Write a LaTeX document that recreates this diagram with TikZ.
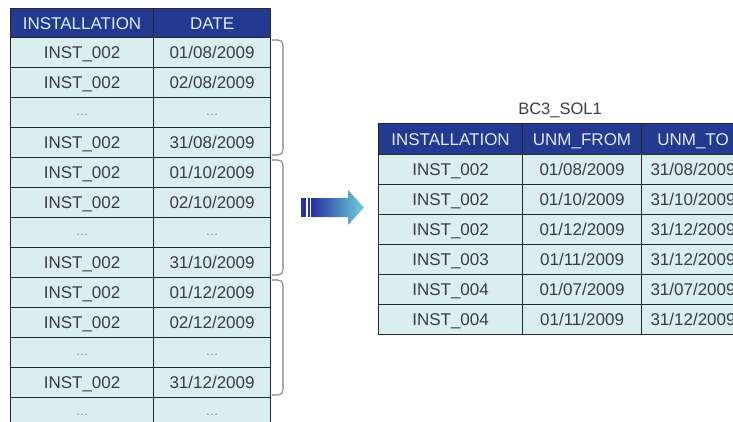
\documentclass[tikz,border=0pt]{standalone}
\usepackage{fontspec}
\setmainfont{Liberation Sans}
\definecolor{hdr}{RGB}{36,58,145}
\definecolor{cellbg}{RGB}{218,238,240}
\definecolor{bord}{RGB}{40,40,40}
\definecolor{txt}{RGB}{60,60,60}
\definecolor{hdrtxt}{RGB}{225,232,245}
\definecolor{brc}{RGB}{130,130,130}
\definecolor{arrA}{RGB}{38,48,160}
\definecolor{arrB}{RGB}{112,208,216}
\begin{document}
\begin{tikzpicture}[x=1pt,y=-1pt,
  cellbox/.style={draw=bord,line width=1.1pt,fill=cellbg,inner sep=0pt,anchor=north west,
     minimum height=30pt,text=txt,font=\fontsize{17}{18}\selectfont,text height=12pt,text depth=0pt},
  hdrbox/.style={cellbox,fill=hdr,text=hdrtxt,minimum height=29pt},
  dotsbox/.style={cellbox,font=\fontsize{13}{14}\selectfont,text=black!45,text height=6pt},
  bracket/.style={draw=brc,line width=1.1pt,rounded corners=5pt}]
\useasboundingbox (0,0) rectangle (733,421);
\clip (0,0) rectangle (733,421);
% ---------- left table ----------
\node[hdrbox,minimum width=143pt] (lh1) at (10,8) {INSTALLATION};
\node[hdrbox,minimum width=117pt] (lh2) at (153,8) {DATE};
\foreach \i/\a/\b/\s in {0/INST\_002/{01/08/2009}/cellbox,1/INST\_002/{02/08/2009}/cellbox,2/\dots/\dots/dotsbox,
  3/INST\_002/{31/08/2009}/cellbox,4/INST\_002/{01/10/2009}/cellbox,5/INST\_002/{02/10/2009}/cellbox,
  6/\dots/\dots/dotsbox,7/INST\_002/{31/10/2009}/cellbox,8/INST\_002/{01/12/2009}/cellbox,
  9/INST\_002/{02/12/2009}/cellbox,10/\dots/\dots/dotsbox,11/INST\_002/{31/12/2009}/cellbox,12/\dots/\dots/dotsbox}{
  \node[\s,minimum width=143pt] (l\i a) at (10,37+30*\i) {\a};
  \node[\s,minimum width=117pt] (l\i b) at (153,37+30*\i) {\b};
}
% brackets
\coordinate (b1t) at (272,40); \coordinate (b1b) at (272,155);
\coordinate (b2t) at (272,160); \coordinate (b2b) at (272,275);
\coordinate (b3t) at (272,280); \coordinate (b3b) at (272,395);
\foreach \k in {1,2,3}{
  \draw[bracket] (b\k t) -- ++(11,0) |- (b\k b);
}
% ---------- arrow ----------
\fill[arrA] (301,198) rectangle (306,217);
\fill[arrA] (307.5,198) rectangle (309.5,217);
\shade[left color=arrA,right color=arrB] (311,198) -- (348,198) -- (348,190) -- (364,207.5) -- (348,225) -- (348,217) -- (311,217) -- cycle;
% ---------- right table ----------
\node[font=\fontsize{16.5}{17}\selectfont,text=txt] (title) at (560,110) {BC3\_SOL1};
\node[hdrbox,minimum width=144pt,minimum height=31pt] (rh1) at (378,123) {INSTALLATION};
\node[hdrbox,minimum width=119pt,minimum height=31pt] (rh2) at (522,123) {UNM\_FROM};
\node[hdrbox,minimum width=103pt,minimum height=31pt] (rh3) at (641,123) {UNM\_TO};
\foreach \i/\a/\b/\c in {0/INST\_002/{01/08/2009}/{31/08/2009},1/INST\_002/{01/10/2009}/{31/10/2009},
  2/INST\_002/{01/12/2009}/{31/12/2009},3/INST\_003/{01/11/2009}/{31/12/2009},
  4/INST\_004/{01/07/2009}/{31/07/2009},5/INST\_004/{01/11/2009}/{31/12/2009}}{
  \node[cellbox,minimum width=144pt] (r\i a) at (378,154+30*\i) {\a};
  \node[cellbox,minimum width=119pt] (r\i b) at (522,154+30*\i) {\b};
  \node[cellbox,minimum width=103pt] (r\i c) at (641,154+30*\i) {\c};
}
\end{tikzpicture}
\end{document}
